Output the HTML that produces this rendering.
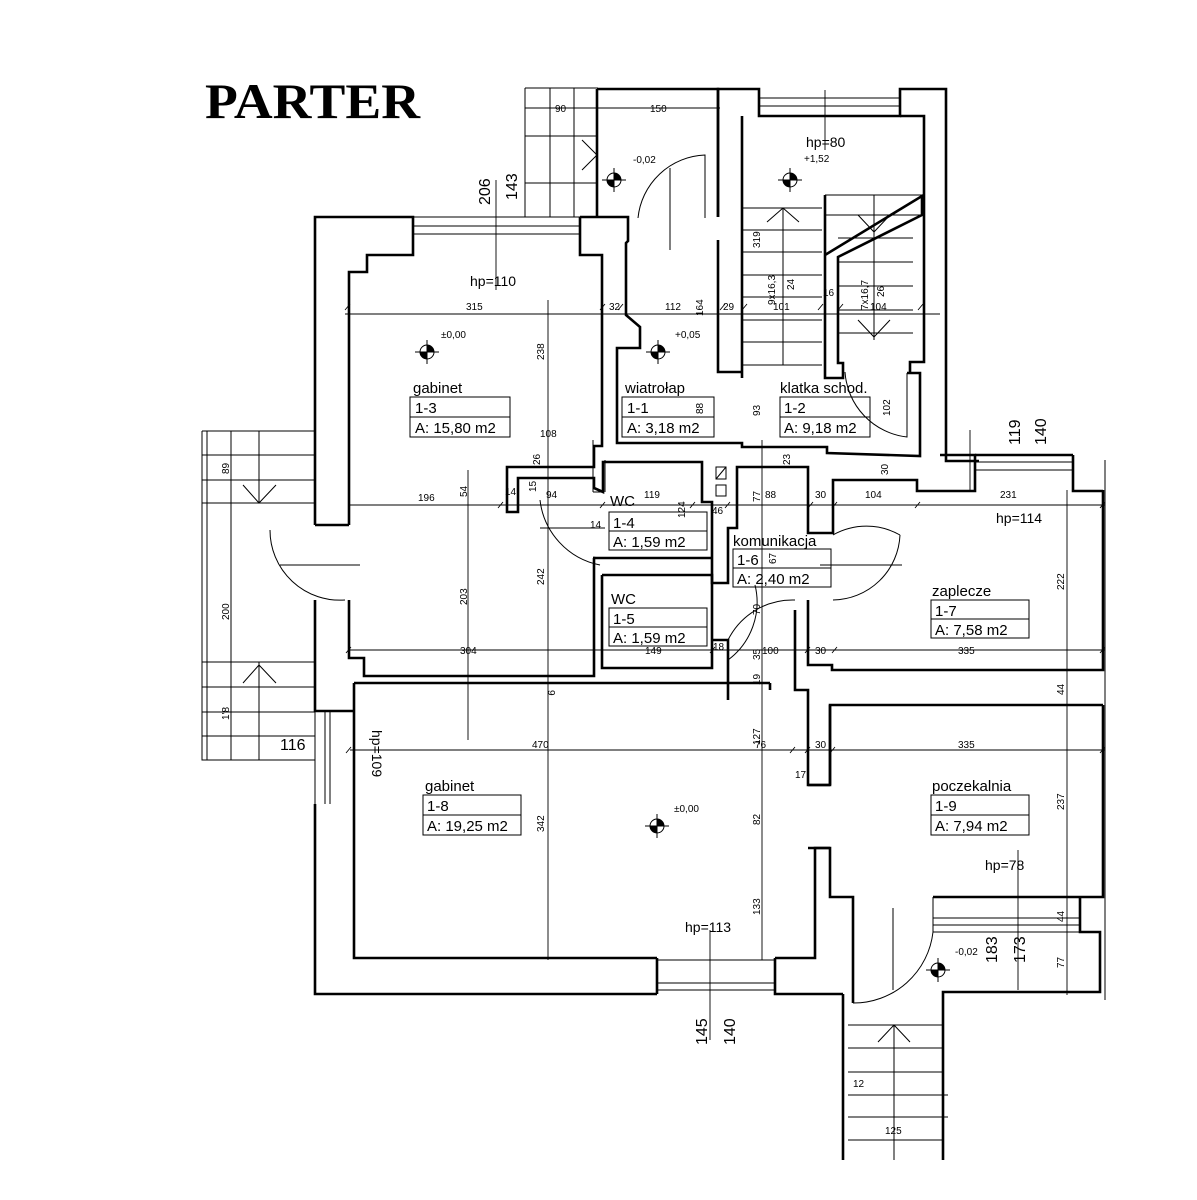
<!DOCTYPE html>
<html><head><meta charset="utf-8"><style>
html,body{margin:0;padding:0;background:#fff}
svg{display:block}
text{font-family:"Liberation Sans",sans-serif;fill:#000}
.w{fill:none;stroke:#000;stroke-width:2.6}
.t{fill:none;stroke:#000;stroke-width:1}
.d{fill:none;stroke:#000;stroke-width:0.9}
.s{font-size:10px}
.r{font-size:15px}
</style></head><body>
<svg width="1197" height="1200" viewBox="0 0 1197 1200" xmlns="http://www.w3.org/2000/svg">
<text x="205" y="118" textLength="215" lengthAdjust="spacingAndGlyphs" style="font-family:'Liberation Serif',serif;font-weight:bold;font-size:50px">PARTER</text>

<!-- top entrance steps -->
<path class="t" d="M525,88 H598 M525,88 V217 M550,88 V217 M574,88 V217 M525,136 H598 M525,183 H598"/>
<path class="t" d="M582,140 L597,155 L582,170"/>
<path class="w" d="M597,89 H718 V217 M597,89 V217"/>
<path class="t" d="M638,218 A70,70 0 0 1 705,155 V218 M670,168 V250"/>

<!-- gabinet 1-3 -->
<path class="w" d="M315,525 V217 H413 V255 H367 V272 H349 V525"/>
<path class="t" d="M413,217 H580 M413,226 H580 M413,234 H580"/>
<path class="w" d="M580,217 H628 V241 L626,243 V315 L640,327 V348 H617 V443 H742 V447 L742,447 H827 V453 L920,456 V373 H907"/>
<path class="w" d="M580,217 V255 H602 V446 H594 V467 H507 V512 H518 V478 H594 V488 L603,492 V462 H702 V502 H712 V583 H728 V528 H737 V467 H808 V533 H833 V480 H917 V491 H975 V455 H940"/>
<path class="w" d="M315,600 V711 H354 M349,600 V658 H364 V676 H594 V558 H593 M349,525 H315"/>
<path class="t" d="M270,530 A70,70 0 0 0 345,600 M280,565 H360"/>
<!-- left terrace -->
<path class="t" d="M202,431 H315 M202,431 V760 H315 M207,431 V760 M202,455 H315 M202,480 H315 M202,503 H315 M202,662 H315 M202,687 H315 M202,712 H315 M202,736 H315 M231,431 V760 M259,431 V503 M259,662 V760 M243,485 L259,503 L276,485 M243,683 L259,665 L276,683"/>

<!-- stairwell -->
<path class="w" d="M718,217 V89 H759 V116 H900 V89 H946 V461 H979 M742,372 V116 M718,372 H742 V378 M718,240 V372 H742"/>
<path class="w" d="M900,116 H924 V362 H910 V373"/>
<path class="t" d="M759,89 V116 M759,98 H900 M759,106 H900"/>
<path class="t" d="M742,208 H822 M742,230 H822 M742,252 H822 M742,275 H822 M742,297 H822 M742,320 H822 M742,342 H822 M742,365 H822 M783,208 V365 M767,222 L783,208 L799,222"/>
<path class="t" d="M825,195 H922 M825,215 H922 M838,238 H913 M838,262 H913 M838,286 H913 M838,310 H913 M838,333 H913 M874,195 V340 M858,320 L874,337 L890,320 M858,215 L874,232 L890,215"/>
<path class="w" d="M825,195 V378 H843 V363 H838 V257 L922,215 V196 L825,255"/>
<path class="t" d="M845,372 A70,70 0 0 0 907,437 V373"/>

<!-- WC 1-4 / 1-5 -->
<path class="t" d="M593,440 V492 M593,492 H603 M605,460 V492"/>
<path class="w" d="M593,558 H712 M602,575 H712 V640 H728 V670 M602,575 V668 H712 V640"/>
<path class="t" d="M540,500 A75,75 0 0 0 600,565 M540,528 H605"/>
<rect x="716" y="467" width="10" height="12" class="t"/><path class="t" d="M716,479 L726,467"/>
<rect x="716" y="485" width="10" height="11" class="t"/>
<!-- corridor -->
<path class="w" d="M728,670 V700 M795,610 V690 H808 V785 H830 V705 H1103 M808,600 V665 H832 V670 H1103 V490 M1073,455 V491 H1103 M975,455 H1073"/>
<path class="t" d="M975,462 H1073 M975,470 H1073 M1105,460 V1000"/>
<path class="t" d="M833,535 A68,68 0 0 1 900,535 M833,600 A68,68 0 0 0 900,535 M820,565 H902"/>
<path class="t" d="M728,640 A72,72 0 0 1 795,600 M755,585 A72,72 0 0 1 728,660"/>

<!-- gabinet 1-8 -->
<path class="w" d="M354,683 H770 M354,683 V958 H657 M770,683 V690 M315,804 V994 H657 M657,958 V994 M775,958 V994 H843 M775,958 H815 V848 H830 V897 H853 V1003"/>
<path class="w" d="M830,848 H808 M808,785 H830"/>
<path class="t" d="M657,990 H775 M657,983 H775 M657,960 H775"/>
<path class="t" d="M315,711 V804 M325,711 V804 M330,711 V804"/>
<!-- poczekalnia -->
<path class="w" d="M830,705 V785 M1103,705 V897 H1080 V932 H1100 V992 H943 V1160 M843,994 V1160 M933,897 H1080"/>
<path class="t" d="M933,897 V932 H1080 M933,918 H1080 M933,925 H1080"/>
<path class="t" d="M853,1003 A80,80 0 0 0 933,932 M893,908 V990"/>
<path class="t" d="M848,1025 H943 M848,1048 H943 M848,1072 H943 M848,1095 H948 M848,1117 H948 M848,1140 H943 M894,1025 V1160 M878,1042 L894,1025 L910,1042"/>

<!-- dimension lines -->
<path class="d" d="M345,314 H940 M350,505 H1105 M350,650 H1105 M350,750 H1105 M548,300 V960 M468,470 V740 M762,440 V960 M1067,490 V995 M496,180 V290 M825,90 V150 M970,430 V490 M710,930 V1040 M1018,850 V990 M525,108 H720 M231,435 V760"/>
<g class="d">
<path d="M600,310 l5,-6 M618,310 l5,-6 M720,310 l5,-6 M742,310 l5,-6 M818,310 l5,-6 M838,310 l5,-6 M918,310 l5,-6 M345,310 l5,-6 M498,508 l5,-6 M600,508 l5,-6 M690,508 l5,-6 M725,508 l5,-6 M808,508 l5,-6 M832,508 l5,-6 M915,508 l5,-6 M1100,508 l5,-6 M346,753 l5,-6 M790,753 l5,-6 M805,753 l5,-6 M830,753 l5,-6 M1100,753 l5,-6 M346,653 l5,-6 M710,653 l5,-6 M805,653 l5,-6 M832,653 l5,-6 M1100,653 l5,-6"/>
</g>

<!-- level markers -->
<g>
<circle cx="427" cy="352" r="7" class="t"/><path d="M427,345 A7,7 0 0 1 434,352 H427Z M427,359 A7,7 0 0 1 420,352 H427Z"/><path class="t" d="M415,352 H439 M427,340 V364"/>
<circle cx="658" cy="352" r="7" class="t"/><path d="M658,345 A7,7 0 0 1 665,352 H658Z M658,359 A7,7 0 0 1 651,352 H658Z"/><path class="t" d="M646,352 H670 M658,340 V364"/>
<circle cx="614" cy="180" r="7" class="t"/><path d="M614,173 A7,7 0 0 1 621,180 H614Z M614,187 A7,7 0 0 1 607,180 H614Z"/><path class="t" d="M602,180 H626 M614,168 V192"/>
<circle cx="790" cy="180" r="7" class="t"/><path d="M790,173 A7,7 0 0 1 797,180 H790Z M790,187 A7,7 0 0 1 783,180 H790Z"/><path class="t" d="M778,180 H802 M790,168 V192"/>
<circle cx="657" cy="826" r="7" class="t"/><path d="M657,819 A7,7 0 0 1 664,826 H657Z M657,833 A7,7 0 0 1 650,826 H657Z"/><path class="t" d="M645,826 H669 M657,814 V838"/>
<circle cx="938" cy="970" r="7" class="t"/><path d="M938,963 A7,7 0 0 1 945,970 H938Z M938,977 A7,7 0 0 1 931,970 H938Z"/><path class="t" d="M926,970 H950 M938,958 V982"/>
</g>

<!-- room labels -->
<g class="r">
<text x="413" y="393">gabinet</text><rect x="410" y="397" width="100" height="40" class="t"/><path class="t" d="M410,417 H510"/><text x="415" y="413">1-3</text><text x="415" y="433">A: 15,80 m2</text>
<text x="625" y="393">wiatrołap</text><rect x="622" y="397" width="92" height="40" class="t"/><path class="t" d="M622,417 H714"/><text x="627" y="413">1-1</text><text x="627" y="433">A: 3,18 m2</text>
<text x="780" y="393">klatka schod.</text><rect x="780" y="397" width="90" height="40" class="t"/><path class="t" d="M780,417 H870"/><text x="784" y="413">1-2</text><text x="784" y="433">A: 9,18 m2</text>
<text x="610" y="506">WC</text><rect x="609" y="512" width="98" height="38" class="t"/><path class="t" d="M609,531 H707"/><text x="613" y="528">1-4</text><text x="613" y="547">A: 1,59 m2</text>
<text x="611" y="604">WC</text><rect x="609" y="608" width="98" height="38" class="t"/><path class="t" d="M609,627 H707"/><text x="613" y="624">1-5</text><text x="613" y="643">A: 1,59 m2</text>
<text x="733" y="546">komunikacja</text><rect x="733" y="549" width="98" height="38" class="t"/><path class="t" d="M733,568 H831"/><text x="737" y="565">1-6</text><text x="737" y="584">A: 2,40 m2</text>
<text x="932" y="596">zaplecze</text><rect x="931" y="600" width="98" height="38" class="t"/><path class="t" d="M931,619 H1029"/><text x="935" y="616">1-7</text><text x="935" y="635">A: 7,58 m2</text>
<text x="425" y="791">gabinet</text><rect x="423" y="795" width="98" height="40" class="t"/><path class="t" d="M423,815 H521"/><text x="427" y="811">1-8</text><text x="427" y="831">A: 19,25 m2</text>
<text x="932" y="791">poczekalnia</text><rect x="931" y="795" width="98" height="40" class="t"/><path class="t" d="M931,815 H1029"/><text x="935" y="811">1-9</text><text x="935" y="831">A: 7,94 m2</text>
</g>
<g class="r" style="font-size:14px">
<text x="470" y="286">hp=110</text>
<text x="806" y="147">hp=80</text>
<text x="996" y="523">hp=114</text>
<text x="685" y="932">hp=113</text>
<text x="985" y="870">hp=78</text>
<text x="280" y="750" style="font-size:16px">116</text>
<text transform="translate(372,730) rotate(90)">hp=109</text>
</g>
<g style="font-size:16px">
<text transform="translate(490,205) rotate(-90)">206</text>
<text transform="translate(517,200) rotate(-90)">143</text>
<text transform="translate(1020,445) rotate(-90)">119</text>
<text transform="translate(1046,445) rotate(-90)">140</text>
<text transform="translate(707,1045) rotate(-90)">145</text>
<text transform="translate(735,1045) rotate(-90)">140</text>
<text transform="translate(997,963) rotate(-90)">183</text>
<text transform="translate(1025,963) rotate(-90)">173</text>
</g>
<g class="s">
<text x="555" y="112">90</text><text x="650" y="112">150</text>
<text x="633" y="163">-0,02</text><text x="804" y="162">+1,52</text>
<text x="441" y="338">±0,00</text><text x="675" y="338">+0,05</text><text x="674" y="812">±0,00</text><text x="955" y="955">-0,02</text>
<text x="466" y="310">315</text><text x="609" y="310">32</text><text x="665" y="310">112</text><text x="723" y="310">29</text><text x="773" y="310">101</text><text x="823" y="296">16</text><text x="870" y="310">104</text>
<text x="418" y="501">196</text><text x="505" y="495">14</text><text x="546" y="498">94</text><text x="644" y="498">119</text><text x="712" y="514">46</text><text x="765" y="498">88</text><text x="815" y="498">30</text><text x="865" y="498">104</text><text x="1000" y="498">231</text><text x="590" y="528">14</text><text x="540" y="437">108</text>
<text x="460" y="654">304</text><text x="645" y="654">149</text><text x="713" y="650">18</text><text x="762" y="654">100</text><text x="815" y="654">30</text><text x="958" y="654">335</text>
<text x="532" y="748">470</text><text x="755" y="748">76</text><text x="815" y="748">30</text><text x="958" y="748">335</text><text x="795" y="778">17</text><text x="853" y="1087">12</text><text x="885" y="1134">125</text>
<g>
<text transform="translate(229,474) rotate(-90)">89</text>
<text transform="translate(229,620) rotate(-90)">200</text>
<text transform="translate(229,720) rotate(-90)">1'8</text>
<text transform="translate(544,360) rotate(-90)">238</text>
<text transform="translate(544,585) rotate(-90)">242</text>
<text transform="translate(544,832) rotate(-90)">342</text>
<text transform="translate(467,605) rotate(-90)">203</text>
<text transform="translate(467,497) rotate(-90)">54</text>
<text transform="translate(540,465) rotate(-90)">26</text>
<text transform="translate(536,492) rotate(-90)">15</text>
<text transform="translate(548,690) rotate(90)">9</text>
<text transform="translate(703,316) rotate(-90)">164</text>
<text transform="translate(703,414) rotate(-90)">88</text>
<text transform="translate(760,248) rotate(-90)">319</text>
<text transform="translate(775,305) rotate(-90)">9x16,3</text>
<text transform="translate(794,290) rotate(-90)">24</text>
<text transform="translate(868,310) rotate(-90)">7x16,7</text>
<text transform="translate(884,297) rotate(-90)">26</text>
<text transform="translate(760,416) rotate(-90)">93</text>
<text transform="translate(890,416) rotate(-90)">102</text>
<text transform="translate(790,465) rotate(-90)">23</text>
<text transform="translate(888,475) rotate(-90)">30</text>
<text transform="translate(760,502) rotate(-90)">77</text>
<text transform="translate(685,518) rotate(-90)">124</text>
<text transform="translate(776,564) rotate(-90)">67</text>
<text transform="translate(760,615) rotate(-90)">70</text>
<text transform="translate(760,660) rotate(-90)">35</text>
<text transform="translate(760,685) rotate(-90)">19</text>
<text transform="translate(760,745) rotate(-90)">127</text>
<text transform="translate(760,825) rotate(-90)">82</text>
<text transform="translate(760,915) rotate(-90)">133</text>
<text transform="translate(1064,590) rotate(-90)">222</text>
<text transform="translate(1064,695) rotate(-90)">44</text>
<text transform="translate(1064,810) rotate(-90)">237</text>
<text transform="translate(1064,922) rotate(-90)">44</text>
<text transform="translate(1064,968) rotate(-90)">77</text>
</g>
</g>
</svg>
</body></html>
